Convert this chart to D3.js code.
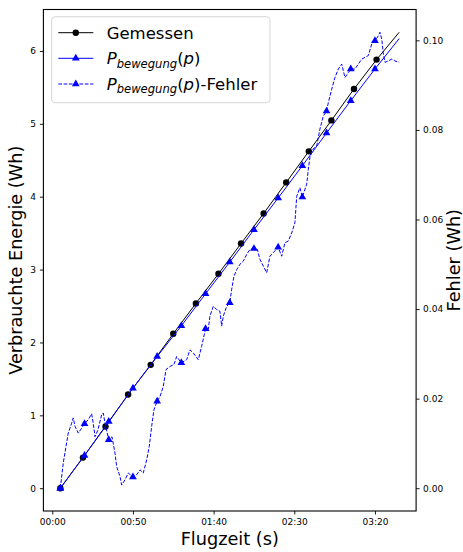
<!DOCTYPE html>
<html>
<head>
<meta charset="utf-8">
<script src="https://cdn.jsdelivr.net/npm/d3@7"></script>
<style>
    body { margin: 0; background: #fff; }
    text { font-family: "DejaVu Sans", sans-serif; }
</style>
</head>
<body>
<svg id="chart" width="463" height="552"></svg>
<script>
// measured energy (black), markers every 14 s, last point is line end only
const gemessenZeit = [5, 19, 33, 47, 61, 75, 89, 103, 117, 131, 145, 159, 173, 187, 201, 215];
const gemessenWh = [0, 0.42, 0.846, 1.285, 1.693, 2.12, 2.535, 2.942, 3.358, 3.77, 4.196, 4.622, 5.047, 5.478, 5.881, 6.256];

// model P_bewegung(p), markers every 15 s
const modellZeit = [5, 20, 35, 50, 65, 80, 95, 110, 125, 140, 155, 170, 185, 200, 215];
const modellWh = [0, 0.45, 0.914, 1.373, 1.807, 2.228, 2.668, 3.103, 3.547, 3.982, 4.425, 4.874, 5.318, 5.753, 6.169];

const markerZeit = [5, 20, 35, 50, 65, 80, 95, 110, 125, 140, 155, 170, 185, 200];

// error of the model (right axis)
const fehlerZeit = [5, 6.8, 8.5, 9.9, 12.0, 13.0, 14.1, 16.1, 18.2, 20, 22.3, 24.4, 25.4, 26.5, 28.3, 30.6, 31.6, 32.7,
    35, 37.0, 38.9, 39.9, 42.0, 43.0, 45.1, 47.1, 50, 52.3, 54.4, 56.4, 58.5, 60.1, 61.6, 63.0, 65, 66.8, 68.8, 70.5,
    73.0, 75.4, 77.1, 80, 83.3, 85.3, 87.4, 90.5, 92.6, 95, 96.7, 97.7, 99.8, 101.9, 103.9, 105.0, 106.0, 108.1, 110,
    111.2, 112.6, 114.3, 116.3, 118.4, 120.5, 122.5, 125, 127.1, 128.7, 130.8, 132.9, 134.9, 137.0, 140, 142.2, 144.2,
    146.3, 148.4, 150.4, 151.5, 153.5, 155, 157.7, 158.7, 159.7, 161.6, 163.9, 165.9, 168.0, 170, 171.1, 173.2, 175.2,
    177.3, 179.4, 181.4, 183.5, 185, 187.6, 189.7, 191.8, 193.8, 195.9, 198.0, 200, 202.1, 203.1, 204.2, 205.1, 206.2,
    208.2, 210.4, 212.4, 215];
const fehlerWh = [0, 0.0056, 0.0093, 0.0123, 0.0145, 0.0157, 0.0138, 0.0123, 0.0134, 0.0144, 0.0153, 0.0166, 0.0145,
    0.0115, 0.0130, 0.0164, 0.0168, 0.0145, 0.0108, 0.0115, 0.0078, 0.0048, 0.0026, 0.0007, 0.0019, 0.0034, 0.0025,
    0.0030, 0.0041, 0.0034, 0.0063, 0.0093, 0.0138, 0.0175, 0.0194, 0.0205, 0.0227, 0.0265, 0.0272, 0.0276, 0.0294,
    0.0280, 0.0287, 0.0309, 0.0302, 0.0287, 0.0317, 0.0356, 0.0354, 0.0384, 0.0406, 0.0399, 0.0395, 0.0362, 0.0384,
    0.0406, 0.0414, 0.0444, 0.0473, 0.0488, 0.0500, 0.0507, 0.0522, 0.0533, 0.0535, 0.0533, 0.0511, 0.0496, 0.0481,
    0.0518, 0.0526, 0.0538, 0.0518, 0.0548, 0.0552, 0.0570, 0.0593, 0.0652, 0.0671, 0.0650, 0.0679, 0.0712, 0.0739,
    0.0757, 0.0764, 0.0802, 0.0831, 0.0842, 0.0861, 0.0891, 0.0917, 0.0936, 0.0947, 0.0917, 0.0928, 0.0936, 0.0936,
    0.0947, 0.0958, 0.0962, 0.0966, 0.0992, 0.0999, 0.1010, 0.1018, 0.1003, 0.0973, 0.0951, 0.0954, 0.0958, 0.0954,
    0.0951];

const xTicks = [0, 50, 100, 150, 200];
const xTickLabels = ["00:00", "00:50", "01:40", "02:30", "03:20"];
const yLeftTicks = [0, 1, 2, 3, 4, 5, 6];
const yRightTicks = [0, 0.02, 0.04, 0.06, 0.08, 0.10];

const frame = {left: 43.4, right: 416.1, top: 9.5, bottom: 511};

function padded([lo, hi]) {
    const m = (hi - lo) * 0.05;
    return [lo - m, hi + m];
}

const svg = d3.select("#chart");

const x = d3.scaleLinear()
    .domain(padded(d3.extent(gemessenZeit.concat(modellZeit, fehlerZeit))))
    .range([frame.left, frame.right]);
const yL = d3.scaleLinear()
    .domain(padded(d3.extent(gemessenWh.concat(modellWh))))
    .range([frame.bottom, frame.top]);
const yR = d3.scaleLinear()
    .domain(padded(d3.extent(fehlerWh)))
    .range([frame.bottom, frame.top]);

const zip = (ts, vs) => ts.map((t, i) => ({t, v: vs[i]}));
const gemessen = zip(gemessenZeit, gemessenWh);
const modell = zip(modellZeit, modellWh);
const fehler = zip(fehlerZeit, fehlerWh);

// axes
function styleAxis(g) {
    g.select(".domain").remove();
    g.selectAll("line").attr("stroke", "#000").attr("stroke-width", 0.9);
    g.selectAll("text").attr("fill", "#000").style("font-size", "9px");
}

svg.append("g")
    .attr("transform", `translate(0,${frame.bottom})`)
    .call(d3.axisBottom(x).tickValues(xTicks)
        .tickFormat((d, i) => xTickLabels[i]).tickSize(3.5).tickPadding(4.5))
    .call(styleAxis);

svg.append("g")
    .attr("transform", `translate(${frame.left},0)`)
    .call(d3.axisLeft(yL).tickValues(yLeftTicks).tickFormat(d3.format("d")).tickSize(3.5).tickPadding(4))
    .call(styleAxis);

svg.append("g")
    .attr("transform", `translate(${frame.right},0)`)
    .call(d3.axisRight(yR).tickValues(yRightTicks).tickFormat(d3.format(".2f")).tickSize(3.5).tickPadding(3.5))
    .call(styleAxis);

// lines
const lineL = d3.line().x(d => x(d.t)).y(d => yL(d.v));
const lineR = d3.line().x(d => x(d.t)).y(d => yR(d.v));
const triangle = d3.symbol().type(d3.symbolTriangle).size(26);

svg.append("path").datum(gemessen)
    .attr("d", lineL).attr("fill", "none").attr("stroke", "#000").attr("stroke-width", 1);
svg.selectAll(".dot").data(gemessen.slice(0, -1)).enter().append("circle")
    .attr("cx", d => x(d.t)).attr("cy", d => yL(d.v)).attr("r", 3.2).attr("fill", "#000");

svg.append("path").datum(modell)
    .attr("d", lineL).attr("fill", "none").attr("stroke", "blue").attr("stroke-width", 1);
svg.selectAll(".tri").data(modell.filter(d => markerZeit.includes(d.t))).enter().append("path")
    .attr("d", triangle).attr("fill", "blue")
    .attr("transform", d => `translate(${x(d.t)},${yL(d.v)})`);

svg.append("path").datum(fehler)
    .attr("d", lineR).attr("fill", "none").attr("stroke", "blue").attr("stroke-width", 1)
    .attr("stroke-dasharray", "3.7,1.6");
svg.selectAll(".triErr").data(fehler.filter(d => markerZeit.includes(d.t))).enter().append("path")
    .attr("d", triangle).attr("fill", "blue")
    .attr("transform", d => `translate(${x(d.t)},${yR(d.v)})`);

// frame
svg.append("rect")
    .attr("x", frame.left).attr("y", frame.top)
    .attr("width", frame.right - frame.left).attr("height", frame.bottom - frame.top)
    .attr("fill", "none").attr("stroke", "#000").attr("stroke-width", 1.1);

// axis labels
svg.append("text")
    .attr("transform", `translate(21.5,${(frame.top + frame.bottom) / 2}) rotate(-90)`)
    .attr("text-anchor", "middle").style("font-size", "17.7px")
    .text("Verbrauchte Energie (Wh)");
svg.append("text")
    .attr("transform", `translate(459.5,${(frame.top + frame.bottom) / 2}) rotate(-90)`)
    .attr("text-anchor", "middle").style("font-size", "17.7px")
    .text("Fehler (Wh)");
svg.append("text")
    .attr("x", (frame.left + frame.right) / 2).attr("y", 545)
    .attr("text-anchor", "middle").style("font-size", "17.7px")
    .text("Flugzeit (s)");

// legend
const legend = svg.append("g");
legend.append("rect")
    .attr("x", 51.7).attr("y", 16.7).attr("width", 218.3).attr("height", 86)
    .attr("rx", 3.5).attr("fill", "#fff").attr("fill-opacity", 0.8)
    .attr("stroke", "#d6d6d6").attr("stroke-width", 1);

const rows = [
    {y: 32.7, color: "#000", dash: null, marker: "circle"},
    {y: 58.3, color: "blue", dash: null, marker: "tri"},
    {y: 84, color: "blue", dash: "3.7,1.6", marker: "tri"}
];
rows.forEach(r => {
    legend.append("line")
        .attr("x1", 58.3).attr("x2", 93.3).attr("y1", r.y).attr("y2", r.y)
        .attr("stroke", r.color).attr("stroke-width", 1)
        .attr("stroke-dasharray", r.dash);
    if (r.marker === "circle") {
        legend.append("circle").attr("cx", 75.8).attr("cy", r.y).attr("r", 3.2).attr("fill", r.color);
    } else {
        legend.append("path").attr("d", triangle).attr("fill", r.color)
            .attr("transform", `translate(75.8,${r.y})`);
    }
});

legend.append("text").attr("x", 106.7).attr("y", 38.5).style("font-size", "16.5px").text("Gemessen");

function modelLabel(y, suffix) {
    const t = legend.append("text").attr("x", 106.7).attr("y", y).style("font-size", "16.5px");
    t.append("tspan").style("font-style", "italic").text("P");
    t.append("tspan").style("font-style", "italic").style("font-size", "11.6px")
        .attr("dy", 3.5).text("bewegung");
    t.append("tspan").attr("dy", -3.5).text("(");
    t.append("tspan").style("font-style", "italic").text("p");
    t.append("tspan").text(")" + suffix);
}
modelLabel(64.2, "");
modelLabel(89.9, "-Fehler");
</script>
</body>
</html>
